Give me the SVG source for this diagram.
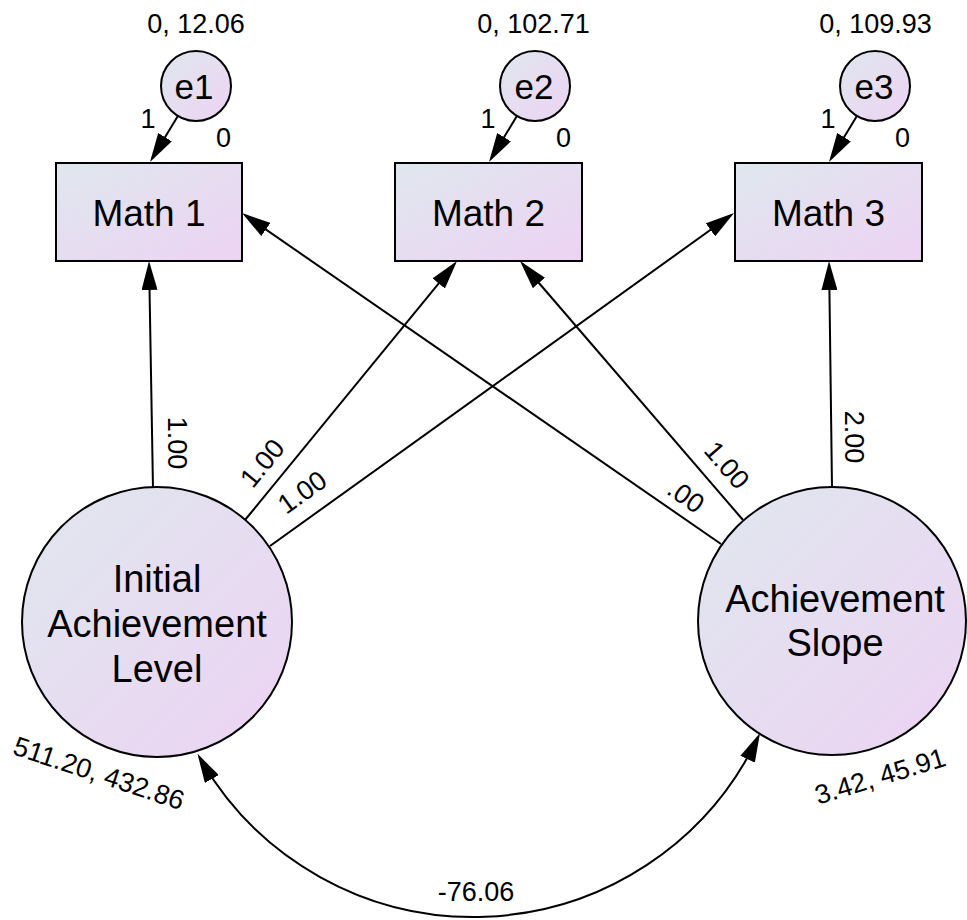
<svg xmlns="http://www.w3.org/2000/svg" width="967" height="920" viewBox="0 0 967 920">
  <defs>
    <linearGradient id="fillGrad" x1="0" y1="0" x2="1" y2="1">
      <stop offset="0" stop-color="#dfe7ee"/>
      <stop offset="1" stop-color="#edd3f3"/>
    </linearGradient>
    <marker id="arrow" viewBox="0 0 29 16" refX="25" refY="8" markerWidth="29" markerHeight="16" markerUnits="userSpaceOnUse" orient="auto-start-reverse">
      <path d="M0,0 L29,8 L0,16 z" fill="#000"/>
    </marker>
    <style>
      .node { fill: url(#fillGrad); stroke: #000; stroke-width: 2; }
      .edge { fill: none; stroke: #000; stroke-width: 2; marker-end: url(#arrow); }
      .cov { fill: none; stroke: #000; stroke-width: 2; marker-start: url(#arrow); marker-end: url(#arrow); }
      text { font-family: "Liberation Sans", Arial, sans-serif; fill: #000; }
      .big { font-size: 38px; text-anchor: middle; }
      .box { font-size: 37px; text-anchor: middle; }
      .mid { font-size: 35px; text-anchor: middle; }
      .lbl { font-size: 27px; text-anchor: middle; }
    </style>
  </defs>

  <!-- paths and covariance -->
  <g id="connectors">
    <line class="edge" x1="177.9" y1="116" x2="152.1" y2="158.6"/>
    <line class="edge" x1="516.9" y1="116" x2="491.1" y2="158.6"/>
    <line class="edge" x1="856.9" y1="116" x2="831.1" y2="158.6"/>

    <line class="edge" x1="153" y1="488" x2="149.1" y2="265"/>
    <line class="edge" x1="245" y1="520" x2="454.5" y2="264.1"/>
    <line class="edge" x1="270" y1="546" x2="730.8" y2="215.3"/>

    <line class="edge" x1="832" y1="487" x2="829.1" y2="265"/>
    <line class="edge" x1="743" y1="520" x2="522.6" y2="264"/>
    <line class="edge" x1="721" y1="544" x2="245.3" y2="215.3"/>

    <path class="cov" d="M199.5,757.3 A315,315 0 0 0 758.3,736.6"/>

    <!-- path coefficients -->
    <text class="lbl" transform="translate(177,443) rotate(90)" y="9.5">1.00</text>
    <text class="lbl" transform="translate(262,463) rotate(-50.6)" y="9.5">1.00</text>
    <text class="lbl" transform="translate(302,492) rotate(-35.7)" y="9.5">1.00</text>
    <text class="lbl" transform="translate(727,465) rotate(49.2)" y="9.5">1.00</text>
    <text class="lbl" transform="translate(686,496) rotate(34.8)" y="9.5">.00</text>
    <text class="lbl" transform="translate(854,437) rotate(90)" y="9.5">2.00</text>
    <text class="lbl" x="476" y="901">-76.06</text>

    <!-- fixed error weights and intercepts -->
    <text class="lbl" x="148" y="128">1</text>
    <text class="lbl" x="223.5" y="147">0</text>
    <text class="lbl" x="488" y="128">1</text>
    <text class="lbl" x="563.5" y="147">0</text>
    <text class="lbl" x="828" y="128">1</text>
    <text class="lbl" x="902.5" y="147">0</text>
  </g>

  <!-- error terms -->
  <g id="e1">
    <circle class="node" cx="196" cy="86" r="35"/>
    <text class="mid" x="194" y="99">e1</text>
    <text class="lbl" x="196" y="33">0, 12.06</text>
  </g>
  <g id="e2">
    <circle class="node" cx="535" cy="86" r="35"/>
    <text class="mid" x="534" y="99">e2</text>
    <text class="lbl" x="533.5" y="33">0, 102.71</text>
  </g>
  <g id="e3">
    <circle class="node" cx="875" cy="86" r="35"/>
    <text class="mid" x="874" y="99">e3</text>
    <text class="lbl" x="875.5" y="33">0, 109.93</text>
  </g>

  <!-- observed measures -->
  <g id="math1">
    <rect class="node" x="56" y="163" width="186" height="98"/>
    <text class="box" x="149" y="226">Math 1</text>
  </g>
  <g id="math2">
    <rect class="node" x="395" y="163" width="187" height="98"/>
    <text class="box" x="488.5" y="226">Math 2</text>
  </g>
  <g id="math3">
    <rect class="node" x="735" y="163" width="187" height="98"/>
    <text class="box" x="828.5" y="226">Math 3</text>
  </g>

  <!-- latent growth factors -->
  <g id="initial">
    <circle class="node" cx="157" cy="622" r="135"/>
    <text class="big" x="157" y="592">Initial</text>
    <text class="big" x="157" y="637">Achievement</text>
    <text class="big" x="157" y="682">Level</text>
    <text class="lbl" transform="translate(99,773) rotate(18.5)" y="9.5">511.20, 432.86</text>
  </g>
  <g id="slope">
    <circle class="node" cx="832" cy="621" r="134"/>
    <text class="big" x="835" y="612">Achievement</text>
    <text class="big" x="835" y="656">Slope</text>
    <text class="lbl" transform="translate(880,776) rotate(-17)" y="9.5">3.42, 45.91</text>
  </g>
</svg>
